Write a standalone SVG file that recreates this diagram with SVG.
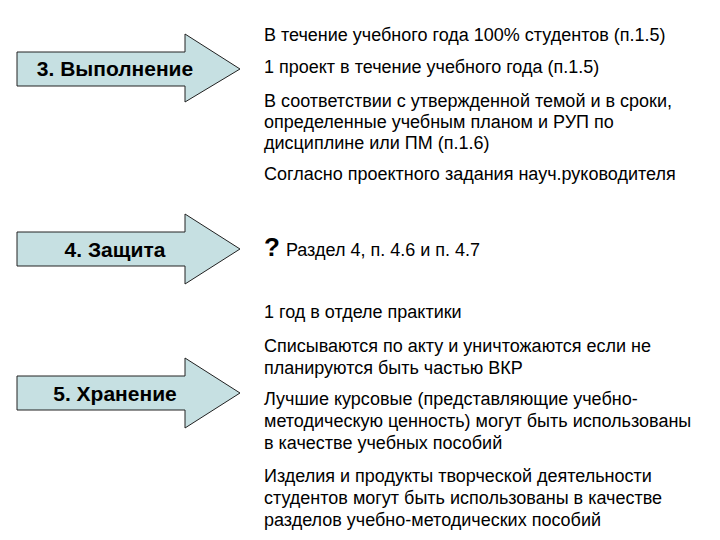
<svg xmlns="http://www.w3.org/2000/svg" width="720" height="540" viewBox="0 0 720 540">
<style>
.arrow{fill:#c6e0e2;stroke:#222;stroke-width:1}
.lbl{font-family:"Liberation Sans",Arial,sans-serif;font-weight:bold;font-size:21px;fill:#000;text-anchor:middle}
.t{font-family:"Liberation Sans",Arial,sans-serif;font-size:18px;fill:#000}
.q{font-family:"Liberation Sans",Arial,sans-serif;font-size:26px;font-weight:bold;fill:#000}
</style>
<rect width="720" height="540" fill="#fff"/>
<g id="node-vypolnenie">
<polygon class="arrow" points="17,52 185,52 185,34 240,69 185,102 185,86 17,86"/>
<text class="lbl" x="115" y="76">3. Выполнение</text>
</g>
<g id="node-zashchita">
<polygon class="arrow" points="17,232 185,232 185,214 240,249 185,284 185,266 17,266"/>
<text class="lbl" x="115" y="257">4. Защита</text>
</g>
<g id="node-khranenie">
<polygon class="arrow" points="17,376 185,376 185,358 240,393 185,428 185,410 17,410"/>
<text class="lbl" x="115" y="401">5. Хранение</text>
</g>
<g id="connectors"></g>
<g id="texts">
<text class="t" x="264" y="41">В течение учебного года 100% студентов (п.1.5)</text>
<text class="t" x="264" y="73">1 проект в течение учебного года (п.1.5)</text>
<text class="t" x="264" y="107">В соответствии с утвержденной темой и в сроки,</text>
<text class="t" x="264" y="128">определенные учебным планом и РУП по</text>
<text class="t" x="264" y="149">дисциплине или ПМ (п.1.6)</text>
<text class="t" x="264" y="180">Согласно проектного задания науч.руководителя</text>
<text x="264" y="256"><tspan class="q">?</tspan><tspan class="t" dx="6">Раздел 4, п. 4.6 и п. 4.7</tspan></text>
<text class="t" x="264" y="318">1 год в отделе практики</text>
<text class="t" x="264" y="352">Списываются по акту и уничтожаются если не</text>
<text class="t" x="264" y="374">планируются быть частью ВКР</text>
<text class="t" x="264" y="405">Лучшие курсовые (представляющие учебно-</text>
<text class="t" x="264" y="427">методическую ценность) могут быть использованы</text>
<text class="t" x="264" y="449">в качестве учебных пособий</text>
<text class="t" x="264" y="482">Изделия и продукты творческой деятельности</text>
<text class="t" x="264" y="504">студентов могут быть использованы в качестве</text>
<text class="t" x="264" y="526">разделов учебно-методических пособий</text>
</g>
</svg>
